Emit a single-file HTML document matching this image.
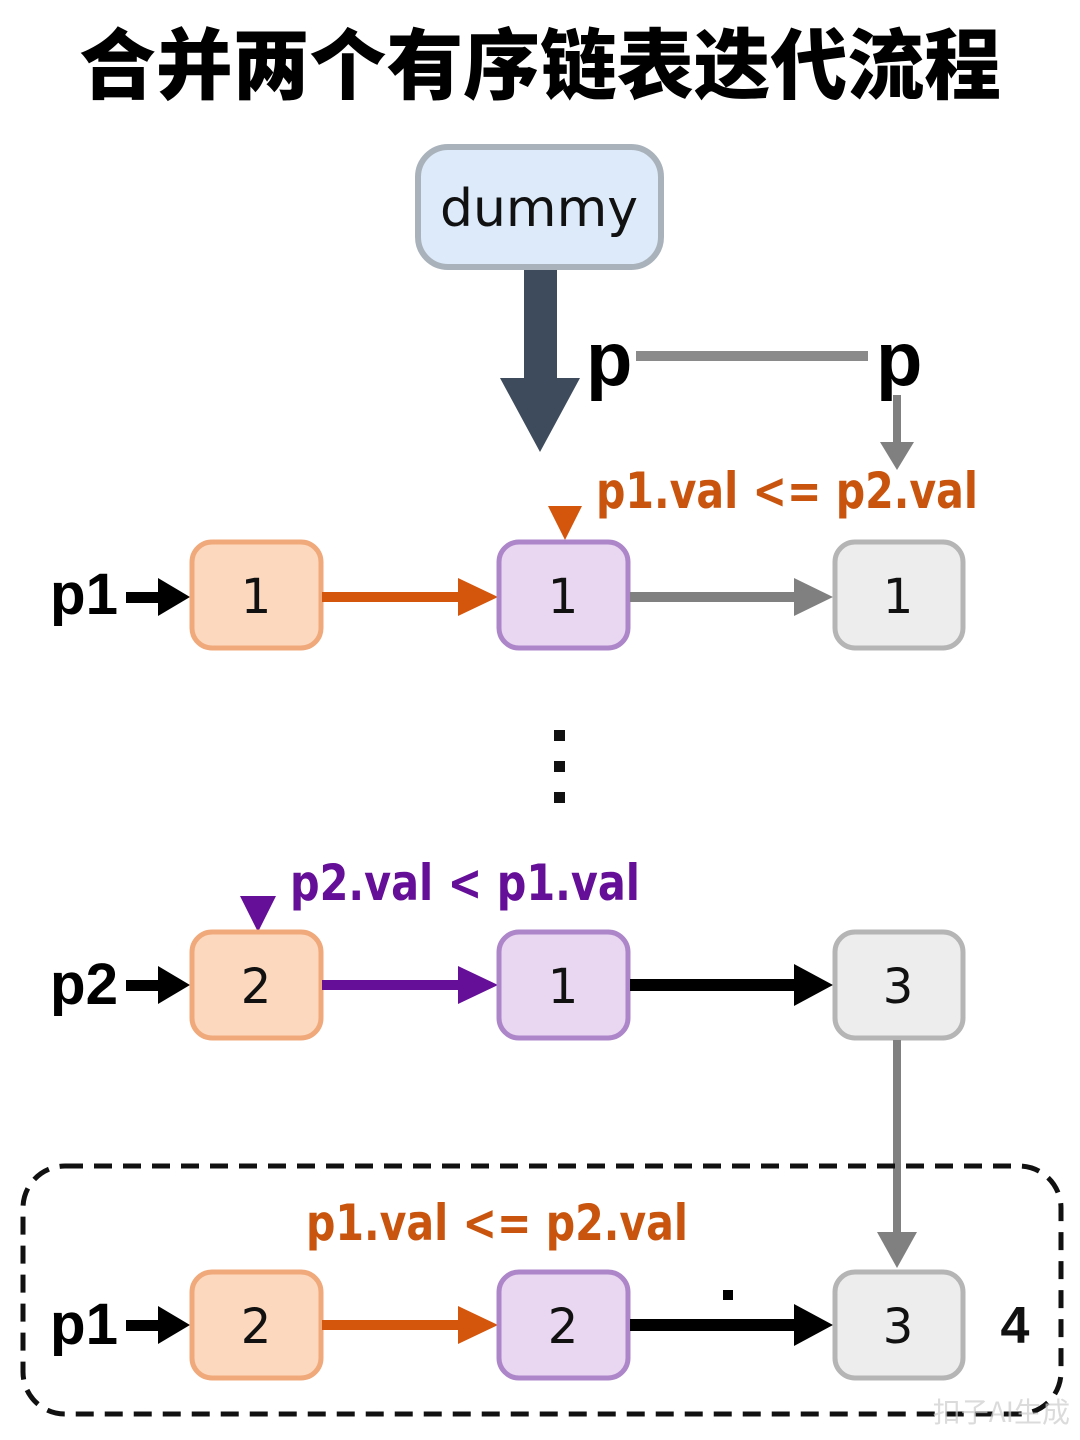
<!DOCTYPE html>
<html><head><meta charset="utf-8"><style>
html,body{margin:0;padding:0;background:#fff;}
svg{display:block;}
</style></head><body>
<svg width="1080" height="1440" viewBox="0 0 1080 1440" xmlns="http://www.w3.org/2000/svg">
<rect width="1080" height="1440" fill="#fff"/>
<text x="540" y="93" text-anchor="middle" font-family="'Noto Sans CJK SC','WenQuanYi Zen Hei',sans-serif" font-weight="900" font-size="77" textLength="922" lengthAdjust="spacingAndGlyphs" fill="#000">合并两个有序链表迭代流程</text>

<!-- dummy -->
<rect x="418" y="147" width="243" height="120" rx="30" fill="#dceaf9" stroke="#a9b2bb" stroke-width="6"/>
<text x="539" y="226" text-anchor="middle" font-family="'DejaVu Sans','Liberation Sans',sans-serif" font-size="52" fill="#111">dummy</text>

<!-- thick arrow -->
<rect x="524" y="270" width="33" height="110" fill="#3d4b5c"/>
<polygon points="500,378 580,378 540,452" fill="#3d4b5c"/>

<text x="586" y="385" font-family="'Liberation Sans',sans-serif" font-weight="bold" font-size="76" fill="#000">p</text>
<rect x="636" y="351" width="232" height="10" fill="#8a8a8a"/>
<text x="876" y="385" font-family="'Liberation Sans',sans-serif" font-weight="bold" font-size="76" fill="#000">p</text>
<rect x="893" y="395" width="8" height="48" fill="#808080"/>
<polygon points="880,442 914,442 897,470" fill="#808080"/>

<text x="596" y="508" font-family="'DejaVu Sans','Liberation Sans',sans-serif" font-weight="bold" font-size="50" textLength="382" lengthAdjust="spacingAndGlyphs" fill="#c9540d">p1.val &lt;= p2.val</text>
<polygon points="548,506 582,506 565,540" fill="#d4560c"/>

<defs>
<g id="n"></g>
</defs>

<!-- row 1 -->
<text x="50" y="614" font-family="'Liberation Sans',sans-serif" font-weight="bold" font-size="58" textLength="68" lengthAdjust="spacingAndGlyphs" fill="#000">p1</text>
<rect x="126" y="592" width="36" height="11" fill="#000"/><polygon points="158,578 190,597 158,616" fill="#000"/>
<rect x="192" y="542" width="129" height="106" rx="20" fill="#fcd9be" stroke="#f0a97a" stroke-width="5"/>
<text x="256" y="613" text-anchor="middle" font-family="'DejaVu Sans',sans-serif" font-size="48" fill="#111">1</text>
<rect x="322" y="592" width="140" height="10" fill="#d4560c"/><polygon points="458,578 498,597 458,616" fill="#d4560c"/>
<rect x="499" y="542" width="129" height="106" rx="20" fill="#e9d6f1" stroke="#ad86c9" stroke-width="5"/>
<text x="563" y="613" text-anchor="middle" font-family="'DejaVu Sans',sans-serif" font-size="48" fill="#111">1</text>
<rect x="630" y="592" width="166" height="10" fill="#808080"/><polygon points="794,578 833,597 794,616" fill="#808080"/>
<rect x="835" y="542" width="128" height="106" rx="20" fill="#ededed" stroke="#b5b5b5" stroke-width="5"/>
<text x="898" y="613" text-anchor="middle" font-family="'DejaVu Sans',sans-serif" font-size="48" fill="#111">1</text>

<!-- dots -->
<rect x="554" y="730" width="11" height="11" fill="#111"/>
<rect x="554" y="761" width="11" height="11" fill="#111"/>
<rect x="554" y="792" width="11" height="11" fill="#111"/>

<!-- row 2 -->
<text x="290" y="900" font-family="'DejaVu Sans','Liberation Sans',sans-serif" font-weight="bold" font-size="50" textLength="350" lengthAdjust="spacingAndGlyphs" fill="#650f99">p2.val &lt; p1.val</text>
<polygon points="240,896 276,896 258,932" fill="#650f99"/>
<text x="50" y="1004" font-family="'Liberation Sans',sans-serif" font-weight="bold" font-size="58" textLength="68" lengthAdjust="spacingAndGlyphs" fill="#000">p2</text>
<rect x="126" y="980" width="36" height="11" fill="#000"/><polygon points="158,966 190,985 158,1004" fill="#000"/>
<rect x="192" y="932" width="129" height="106" rx="20" fill="#fcd9be" stroke="#f0a97a" stroke-width="5"/>
<text x="256" y="1003" text-anchor="middle" font-family="'DejaVu Sans',sans-serif" font-size="48" fill="#111">2</text>
<rect x="322" y="980" width="140" height="10" fill="#650f99"/><polygon points="458,966 498,985 458,1004" fill="#650f99"/>
<rect x="499" y="932" width="129" height="106" rx="20" fill="#e9d6f1" stroke="#ad86c9" stroke-width="5"/>
<text x="563" y="1003" text-anchor="middle" font-family="'DejaVu Sans',sans-serif" font-size="48" fill="#111">1</text>
<rect x="630" y="979" width="166" height="12" fill="#000"/><polygon points="794,964 833,985 794,1006" fill="#000"/>
<rect x="835" y="932" width="128" height="106" rx="20" fill="#ededed" stroke="#b5b5b5" stroke-width="5"/>
<text x="898" y="1003" text-anchor="middle" font-family="'DejaVu Sans',sans-serif" font-size="48" fill="#111">3</text>

<!-- vertical gray -->
<rect x="893" y="1040" width="8" height="194" fill="#808080"/>
<polygon points="877,1232 917,1232 897,1268" fill="#808080"/>

<!-- dashed box -->
<rect x="23" y="1166" width="1038" height="248" rx="42" fill="none" stroke="#111" stroke-width="5" stroke-dasharray="18 11"/>

<text x="306" y="1240" font-family="'DejaVu Sans','Liberation Sans',sans-serif" font-weight="bold" font-size="50" textLength="382" lengthAdjust="spacingAndGlyphs" fill="#c9540d">p1.val &lt;= p2.val</text>

<!-- row 3 -->
<text x="50" y="1344" font-family="'Liberation Sans',sans-serif" font-weight="bold" font-size="58" textLength="68" lengthAdjust="spacingAndGlyphs" fill="#000">p1</text>
<rect x="126" y="1320" width="36" height="11" fill="#000"/><polygon points="158,1306 190,1325 158,1344" fill="#000"/>
<rect x="192" y="1272" width="129" height="106" rx="20" fill="#fcd9be" stroke="#f0a97a" stroke-width="5"/>
<text x="256" y="1343" text-anchor="middle" font-family="'DejaVu Sans',sans-serif" font-size="48" fill="#111">2</text>
<rect x="322" y="1320" width="140" height="10" fill="#d4560c"/><polygon points="458,1306 498,1325 458,1344" fill="#d4560c"/>
<rect x="499" y="1272" width="129" height="106" rx="20" fill="#e9d6f1" stroke="#ad86c9" stroke-width="5"/>
<text x="563" y="1343" text-anchor="middle" font-family="'DejaVu Sans',sans-serif" font-size="48" fill="#111">2</text>
<rect x="723" y="1290" width="10" height="10" fill="#000"/>
<rect x="630" y="1319" width="166" height="12" fill="#000"/><polygon points="794,1304 833,1325 794,1346" fill="#000"/>
<rect x="835" y="1272" width="128" height="106" rx="20" fill="#ededed" stroke="#b5b5b5" stroke-width="5"/>
<text x="898" y="1343" text-anchor="middle" font-family="'DejaVu Sans',sans-serif" font-size="48" fill="#111">3</text>
<text x="1015" y="1343" text-anchor="middle" font-family="'Liberation Sans',sans-serif" font-weight="bold" font-size="52" fill="#111">4</text>

<text x="1070" y="1422" text-anchor="end" font-family="'Noto Sans CJK SC',sans-serif" font-size="28" fill="#ccc" opacity="0.7">扣子AI生成</text>
</svg>
</body></html>
